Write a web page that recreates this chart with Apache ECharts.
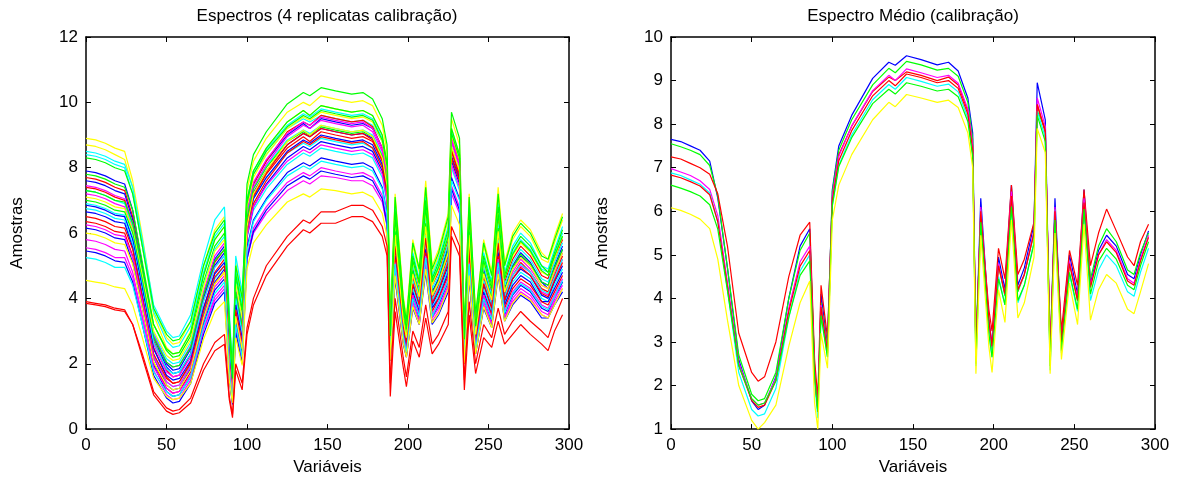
<!DOCTYPE html>
<html>
<head>
<meta charset="utf-8">
<title>Espectros calibração</title>
<script src="https://cdn.jsdelivr.net/npm/echarts@6/dist/echarts.min.js"></script>
<style>
  html, body { margin: 0; padding: 0; background: #fff; }
  #chart { width: 1178px; height: 481px; }
</style>
</head>
<body>
<div id="chart"></div>
<script>
// variaveis (eixo x) onde os espectros foram lidos
var variaveis = [0, 6, 12, 18, 24, 29, 35, 42, 50, 54, 58,
  65, 73, 80, 86, 89, 91, 93, 97,
  100, 104, 112, 125, 135, 139, 146, 155, 165, 172, 178, 184, 187,
  189, 192, 197, 199, 203, 207, 211, 215, 219, 225, 227, 232, 235, 238, 242, 247, 252, 256, 260, 265, 270, 276, 283, 287, 291, 296];

// espectros das 4 replicatas (painel esquerdo)
var replicatas = [
  [8.9,8.85,8.75,8.6,8.5,7.6,5.9,3.7,2.8,2.6,2.65, 3.3,5.0,6.1,6.5,3.4,1.7,5.1,4.0, 7.3,8.2,8.9,9.7,10.0,9.9,10.2,10.1,10.0,10.05,9.9,9.3,8.5, 3.2,7.2,4.1,3.4,5.8,4.9,7.6,5.0,5.5,6.6,9.5,8.7,3.1,7.2,3.5,5.8,4.8,7.4,5.1,6.0,6.4,6.1,5.4,5.2,5.9,6.6],
  [8.7,8.65,8.55,8.4,8.25,7.4,5.6,3.5,2.5,2.3,2.35, 3.0,4.7,5.8,6.2,3.1,1.6,4.8,3.7, 7.0,7.9,8.6,9.4,9.75,9.6,9.9,9.8,9.7,9.75,9.6,9.0,8.15, 3.1,7.0,4.0,3.3,5.6,4.8,7.3,4.8,5.3,6.4,9.2,8.4,3.0,7.0,3.4,5.6,4.7,7.1,5.0,5.8,6.2,5.9,5.2,5.1,5.7,6.4],
  [8.5,8.45,8.35,8.2,8.1,7.4,5.8,3.8,3.0,2.8,2.85, 3.5,5.2,6.4,6.8,3.6,1.8,5.3,4.2, 7.0,7.8,8.4,9.2,9.5,9.4,9.6,9.5,9.4,9.45,9.3,8.8,8.0, 3.0,6.8,3.8,3.2,5.4,4.6,7.1,4.7,5.2,6.2,8.9,8.2,2.9,6.8,3.3,5.4,4.5,6.9,4.8,5.6,6.0,5.7,5.0,4.9,5.5,6.2],
  [8.4,8.35,8.25,8.1,8.0,7.2,5.6,3.6,2.7,2.5,2.55, 3.15,4.8,5.9,6.3,3.3,1.7,4.9,3.8, 7.0,7.9,8.55,9.3,9.65,9.55,9.8,9.7,9.6,9.65,9.5,8.9,8.1, 2.9,6.6,3.7,3.1,5.2,4.5,6.8,4.5,5.0,6.0,9.1,8.3,2.8,6.6,3.2,5.2,4.4,6.7,4.6,5.4,5.8,5.5,4.9,4.8,5.3,6.0],
  [8.3,8.25,8.15,8.0,7.9,7.2,5.6,3.7,2.9,2.7,2.75, 3.3,5.0,6.0,6.4,3.4,1.8,5.0,4.0, 7.5,8.4,9.1,9.95,10.3,10.2,10.45,10.35,10.25,10.3,10.1,9.5,8.7, 3.2,7.1,4.0,3.3,5.7,4.9,7.4,4.9,5.4,6.5,9.7,8.9,3.0,7.1,3.5,5.7,4.7,7.2,5.0,5.9,6.3,6.0,5.3,5.2,5.8,6.5],
  [7.9,7.85,7.75,7.6,7.5,6.7,5.0,2.9,2.0,1.8,1.85, 2.45,4.1,5.2,5.6,2.55,1.3,4.2,3.1, 6.6,7.5,8.2,9.0,9.35,9.2,9.5,9.4,9.3,9.35,9.2,8.6,7.7, 2.7,6.1,3.5,2.9,4.9,4.2,6.4,4.2,4.6,5.6,8.8,8.1,2.6,6.1,3.0,4.9,4.1,6.2,4.3,5.0,5.4,5.1,4.5,4.4,5.0,5.6],
  [7.8,7.75,7.65,7.5,7.4,6.7,5.1,3.2,2.4,2.2,2.25, 2.85,4.5,5.6,6.0,2.95,1.5,4.6,3.5, 7.0,7.9,8.6,9.4,9.75,9.6,9.9,9.8,9.7,9.75,9.6,9.0,8.1, 3.0,6.7,3.8,3.1,5.3,4.5,7.0,4.6,5.1,6.1,9.2,8.4,2.8,6.7,3.2,5.3,4.4,6.8,4.7,5.5,5.9,5.6,5.0,4.8,5.4,6.1],
  [7.7,7.65,7.55,7.4,7.3,6.5,4.8,2.7,1.8,1.6,1.65, 2.3,4.0,5.1,5.5,2.4,1.2,4.1,3.0, 6.6,7.5,8.2,9.1,9.4,9.3,9.6,9.5,9.4,9.45,9.25,8.6,7.8, 2.8,6.3,3.6,3.0,5.0,4.3,6.6,4.4,4.8,5.8,8.9,8.2,2.7,6.3,3.1,5.0,4.2,6.4,4.5,5.2,5.6,5.3,4.7,4.6,5.2,5.8],
  [7.6,7.55,7.45,7.3,7.2,6.4,4.8,2.8,1.9,1.7,1.75, 2.3,4.0,5.0,5.4,2.45,1.25,4.0,3.0, 6.35,7.25,7.9,8.7,9.05,8.95,9.2,9.1,9.0,9.05,8.9,8.3,7.5, 2.7,6.0,3.4,2.8,4.8,4.1,6.3,4.1,4.6,5.5,8.6,7.8,2.5,6.0,2.9,4.8,4.0,6.1,4.2,4.9,5.3,5.0,4.5,4.3,4.9,5.5],
  [7.45,7.4,7.3,7.15,7.05,6.3,4.8,2.9,2.05,1.9,1.95, 2.55,4.2,5.3,5.7,2.65,1.35,4.3,3.2, 6.65,7.55,8.25,9.05,9.4,9.3,9.55,9.45,9.35,9.4,9.2,8.6,7.8, 2.6,5.9,3.3,2.8,4.7,4.0,6.1,4.1,4.5,5.4,8.9,8.1,2.5,5.9,2.9,4.7,3.9,6.0,4.2,4.8,5.2,4.9,4.4,4.3,4.8,5.4],
  [7.4,7.35,7.25,7.1,7.0,6.2,4.5,2.5,1.6,1.4,1.45, 2.05,3.7,4.8,5.2,2.15,1.05,3.8,2.7, 6.2,7.1,7.8,8.6,8.95,8.8,9.1,9.0,8.9,8.95,8.8,8.2,7.3, 2.6,5.8,3.3,2.7,4.6,3.9,6.0,4.0,4.4,5.3,8.5,7.7,2.4,5.8,2.8,4.6,3.8,5.9,4.1,4.7,5.1,4.8,4.3,4.2,4.7,5.3],
  [7.3,7.25,7.15,7.0,6.9,6.2,4.75,2.95,2.15,2.0,2.05, 2.65,4.4,5.5,5.9,2.8,1.4,4.5,3.35, 6.5,7.4,8.05,8.85,9.15,9.05,9.3,9.2,9.1,9.15,9.0,8.4,7.6, 2.8,6.2,3.5,2.9,5.0,4.2,6.5,4.3,4.7,5.7,8.65,7.9,2.6,6.2,3.0,5.0,4.1,6.3,4.4,5.1,5.5,5.2,4.6,4.5,5.1,5.7],
  [7.2,7.15,7.05,6.9,6.8,6.1,4.5,2.6,1.75,1.6,1.65, 2.2,3.9,4.95,5.3,2.35,1.2,3.95,2.9, 6.45,7.4,8.1,8.95,9.3,9.2,9.45,9.35,9.25,9.3,9.1,8.5,7.65, 2.5,5.7,3.2,2.7,4.5,3.9,5.9,3.9,4.3,5.2,8.8,8.0,2.4,5.7,2.8,4.5,3.8,5.8,4.0,4.7,5.0,4.8,4.2,4.1,4.6,5.2],
  [7.1,7.05,6.95,6.8,6.75,6.1,4.7,3.0,2.25,2.1,2.15, 2.75,4.35,5.45,5.8,2.85,1.45,4.45,3.4, 6.8,7.7,8.4,9.2,9.55,9.45,9.7,9.6,9.5,9.55,9.4,8.8,7.95, 2.9,6.4,3.6,3.0,5.1,4.4,6.7,4.4,4.9,5.9,9.0,8.25,2.7,6.4,3.1,5.1,4.3,6.6,4.6,5.3,5.7,5.4,4.8,4.7,5.2,5.9],
  [7.0,6.95,6.85,6.7,6.65,6.0,4.55,2.8,2.05,1.9,1.95, 2.5,4.1,5.15,5.5,2.6,1.35,4.2,3.15, 6.45,7.35,8.0,8.8,9.1,9.0,9.25,9.15,9.05,9.1,8.95,8.35,7.55, 2.7,6.05,3.45,2.85,4.85,4.1,6.3,4.15,4.55,5.5,8.6,7.85,2.55,6.05,2.95,4.8,4.0,6.15,4.25,4.95,5.35,5.05,4.5,4.4,4.95,5.5],
  [6.9,6.85,6.75,6.6,6.55,5.85,4.4,2.65,1.85,1.7,1.75, 2.3,3.9,4.95,5.3,2.4,1.25,4.0,2.95, 6.15,7.05,7.7,8.45,8.75,8.65,8.9,8.8,8.7,8.75,8.6,8.05,7.25, 2.55,5.7,3.25,2.7,4.55,3.9,5.95,3.95,4.35,5.2,8.3,7.55,2.4,5.7,2.8,4.55,3.8,5.8,4.05,4.7,5.05,4.8,4.25,4.15,4.65,5.2],
  [6.85,6.8,6.7,6.55,6.5,5.8,4.3,2.45,1.65,1.5,1.55, 2.1,3.7,4.75,5.1,2.2,1.1,3.8,2.75, 6.15,7.05,7.7,8.5,8.85,8.75,9.0,8.9,8.8,8.85,8.7,8.1,7.3, 2.5,5.5,3.1,2.6,4.4,3.8,5.8,3.8,4.2,5.0,8.35,7.65,2.4,5.5,2.7,4.4,3.7,5.6,3.9,4.6,4.9,4.7,4.1,4.0,4.5,5.0],
  [6.75,6.7,6.6,6.45,6.4,5.65,4.15,2.3,1.45,1.3,1.35, 1.95,3.55,4.6,5.0,2.05,1.0,3.65,2.6, 5.85,6.7,7.35,8.1,8.45,8.35,8.6,8.5,8.4,8.45,8.3,7.7,6.9, 2.4,5.4,3.1,2.5,4.3,3.7,5.7,3.7,4.1,4.9,8.0,7.3,2.3,5.4,2.6,4.3,3.6,5.5,3.8,4.5,4.8,4.6,4.0,3.9,4.4,4.9],
  [6.65,6.6,6.5,6.35,6.3,5.55,4.05,2.2,1.35,1.2,1.25, 1.85,3.45,4.5,4.9,1.95,0.95,3.55,2.5, 5.9,6.8,7.5,8.3,8.65,8.55,8.8,8.7,8.6,8.65,8.5,7.9,7.05, 2.4,5.3,3.0,2.5,4.2,3.6,5.5,3.7,4.0,4.8,8.2,7.5,2.3,5.3,2.6,4.2,3.5,5.4,3.8,4.4,4.7,4.5,3.9,3.9,4.3,4.8],
  [6.5,6.45,6.35,6.2,6.15,5.5,4.05,2.3,1.55,1.4,1.45, 2.0,3.6,4.65,5.0,2.1,1.05,3.65,2.65, 6.25,7.15,7.85,8.7,9.05,8.95,9.2,9.1,9.0,9.05,8.85,8.25,7.4, 2.45,5.6,3.15,2.65,4.45,3.8,5.85,3.85,4.25,5.1,8.55,7.8,2.35,5.6,2.75,4.45,3.7,5.7,3.95,4.6,4.95,4.7,4.15,4.05,4.55,5.1],
  [6.35,6.3,6.2,6.05,6.0,5.3,3.85,2.05,1.25,1.1,1.15, 1.75,3.35,4.45,4.8,1.85,0.9,3.45,2.4, 5.95,6.9,7.6,8.45,8.8,8.7,8.95,8.85,8.75,8.8,8.6,8.0,7.15, 2.3,5.2,2.9,2.4,4.1,3.5,5.4,3.6,4.0,4.7,8.3,7.6,2.2,5.2,2.5,4.1,3.5,5.3,3.7,4.3,4.6,4.4,3.9,3.8,4.2,4.7],
  [6.25,6.2,6.1,5.95,5.9,5.25,3.9,2.2,1.45,1.3,1.35, 1.9,3.35,4.35,4.7,2.0,1.0,3.45,2.5, 5.9,6.8,7.45,8.2,8.55,8.45,8.7,8.6,8.5,8.55,8.4,7.8,7.0, 2.3,5.1,2.9,2.4,4.1,3.5,5.3,3.5,3.9,4.6,8.1,7.4,2.2,5.1,2.5,4.1,3.4,5.2,3.6,4.2,4.5,4.3,3.8,3.7,4.1,4.6],
  [6.15,6.1,6.0,5.85,5.8,5.1,3.7,1.95,1.15,1.0,1.05, 1.6,3.2,4.25,4.6,1.7,0.85,3.25,2.25, 5.55,6.4,7.05,7.85,8.15,8.05,8.3,8.2,8.1,8.15,8.0,7.4,6.6, 2.2,5.0,2.8,2.3,4.0,3.4,5.2,3.4,3.8,4.5,7.7,7.05,2.1,5.0,2.4,4.0,3.3,5.1,3.5,4.1,4.4,4.2,3.7,3.6,4.0,4.5],
  [6.0,5.95,5.85,5.7,5.65,5.05,3.7,2.05,1.35,1.2,1.25, 1.8,3.4,4.45,4.8,1.9,0.95,3.45,2.45, 6.2,7.2,7.9,8.8,9.15,9.0,9.3,9.2,9.1,9.15,8.95,8.3,7.45, 2.65,5.95,3.35,2.8,4.75,4.05,6.2,4.1,4.5,5.4,8.65,7.9,2.5,5.95,2.9,4.75,3.95,6.05,4.2,4.9,5.25,5.0,4.4,4.3,4.85,5.4],
  [5.8,5.75,5.65,5.5,5.45,4.8,3.45,1.8,1.05,0.9,0.95, 1.5,3.05,4.05,4.4,1.6,0.8,3.1,2.1, 5.3,6.15,6.8,7.55,7.85,7.75,8.0,7.9,7.8,7.85,7.7,7.15,6.35, 2.2,4.9,2.8,2.3,3.9,3.3,5.1,3.4,3.7,4.4,7.45,6.8,2.1,4.9,2.4,3.9,3.2,4.9,3.4,4.0,4.3,4.1,3.6,3.5,4.0,4.4],
  [5.55,5.5,5.4,5.25,5.25,4.65,3.4,1.9,1.25,1.1,1.15, 1.65,3.05,3.95,4.3,1.75,0.9,3.1,2.2, 5.2,6.0,6.6,7.3,7.6,7.5,7.75,7.7,7.6,7.6,7.45,6.95,6.2, 2.1,4.7,2.7,2.2,3.8,3.2,5.0,3.3,3.6,4.3,7.2,6.6,2.0,4.7,2.3,3.8,3.2,4.8,3.4,3.9,4.2,4.0,3.5,3.4,3.9,4.3],
  [5.45,5.4,5.3,5.15,5.1,4.5,3.2,1.65,0.95,0.8,0.85, 1.4,2.9,3.85,4.2,1.5,0.75,2.95,2.0, 5.2,6.05,6.7,7.45,7.75,7.65,7.9,7.8,7.7,7.75,7.6,7.05,6.25, 2.1,4.6,2.6,2.2,3.7,3.2,4.8,3.2,3.5,4.2,7.35,6.7,2.0,4.6,2.3,3.7,3.1,4.7,3.3,3.8,4.1,3.9,3.4,3.4,3.8,4.2],
  [5.25,5.2,5.1,4.95,4.95,4.4,3.2,1.75,1.15,1.0,1.05, 1.6,3.15,4.15,4.5,1.7,0.85,3.2,2.2, 5.45,6.35,7.0,7.75,8.05,7.95,8.2,8.1,8.0,8.05,7.9,7.35,6.55, 2.25,5.05,2.85,2.35,4.0,3.45,5.25,3.45,3.85,4.55,7.6,7.0,2.15,5.05,2.45,4.0,3.35,5.1,3.55,4.15,4.45,4.25,3.75,3.65,4.05,4.55],
  [4.55,4.5,4.45,4.35,4.3,3.8,2.8,1.55,1.0,0.9,0.95, 1.4,2.75,3.6,3.9,1.5,0.8,2.8,1.95, 4.9,5.7,6.25,6.95,7.2,7.1,7.35,7.3,7.2,7.25,7.1,6.6,5.9, 2.1,4.7,2.65,2.2,3.75,3.2,4.9,3.25,3.55,4.3,6.85,6.25,2.0,4.7,2.3,3.75,3.1,4.75,3.3,3.85,4.15,3.95,3.5,3.4,3.8,4.3],
  [3.9,3.85,3.8,3.7,3.65,3.2,2.3,1.15,0.65,0.55,0.6, 0.95,2.0,2.65,2.9,1.0,0.45,2.0,1.4, 3.1,4.0,5.0,5.9,6.4,6.3,6.65,6.65,6.85,6.85,6.7,6.2,5.6, 1.4,4.0,2.2,1.6,3.0,2.5,3.8,2.6,2.9,3.6,6.2,5.6,1.5,3.9,2.0,3.2,2.8,3.7,2.9,3.3,3.6,3.3,3.0,2.8,3.4,4.0],
  [3.85,3.8,3.75,3.65,3.6,3.2,2.2,1.05,0.55,0.45,0.5, 0.8,1.8,2.4,2.6,0.9,0.35,1.8,1.2, 2.9,3.8,4.7,5.6,6.1,6.0,6.3,6.3,6.5,6.5,6.35,5.9,5.3, 1.0,3.6,1.9,1.3,2.7,2.2,3.4,2.3,2.6,3.2,5.9,5.3,1.2,3.5,1.7,2.8,2.5,3.3,2.6,2.9,3.2,2.9,2.6,2.4,3.0,3.5],
  [7.3,7.25,7.15,7.0,6.95,6.3,4.9,3.2,2.45,2.3,2.35, 2.95,4.7,5.8,6.2,3.1,1.55,4.75,3.65, 6.9,7.8,8.5,9.25,9.6,9.5,9.75,9.65,9.55,9.6,9.45,8.85,8.05, 2.85,6.5,3.7,3.05,5.15,4.45,6.8,4.5,4.95,5.9,9.05,8.3,2.75,6.5,3.15,5.15,4.3,6.6,4.6,5.35,5.75,5.45,4.85,4.7,5.3,5.9]
];
var coresReplicatas = ['#ffff00','#ffff00','#00ffff','#00ffff','#00ff00','#0000ff','#00ff00','#ff0000',
  '#0000ff','#ff00ff','#ff0000','#00ffff','#ff00ff','#ffff00','#00ff00','#00ffff',
  '#0000ff','#00ffff','#0000ff','#ff0000','#ff0000','#ff00ff','#0000ff','#ffff00',
  '#ff00ff','#ff00ff','#0000ff','#00ffff','#ffff00','#ff0000','#ff0000','#00ff00'];

// espectros medios (painel direito)
var mediaAzul = [7.65,7.6,7.5,7.4,7.15,6.3,4.7,2.6,1.65,1.45,1.55, 2.2,4.0,5.2,5.6,2.4,1.45,4.1,2.9, 6.5,7.5,8.2,9.05,9.42,9.35,9.57,9.48,9.36,9.42,9.22,8.6,7.8, 2.8,6.3,3.5,2.95,4.95,4.2,6.6,4.3,4.7,5.7,8.95,8.1,2.7,6.3,3.05,5.0,4.1,6.5,4.35,5.1,5.45,5.2,4.55,4.45,5.0,5.55];
var mediaVerde = [7.55,7.48,7.4,7.3,7.05,6.35,4.7,2.7,1.8,1.65,1.7, 2.3,4.0,5.1,5.5,2.4,1.5,3.9,2.85, 6.45,7.4,8.1,8.9,9.28,9.18,9.44,9.36,9.24,9.28,9.1,8.5,7.65, 2.65,6.05,3.4,2.8,4.75,4.05,6.35,4.15,4.55,5.5,8.3,7.9,2.55,6.05,2.9,4.8,3.95,6.25,4.45,5.2,5.6,5.3,4.65,4.55,5.05,5.5];
var mediaVermelha = [7.25,7.2,7.1,7.0,6.85,6.4,5.2,3.2,2.3,2.1,2.2, 3.0,4.5,5.45,5.75,2.6,1.7,4.3,3.1, 6.3,7.3,7.95,8.75,9.08,9.0,9.2,9.12,9.0,9.08,8.9,8.3,7.5, 2.85,5.9,3.75,3.25,5.15,4.45,6.6,4.55,4.9,5.75,8.45,7.8,2.8,6.0,3.25,5.1,4.3,6.5,4.75,5.5,6.05,5.55,4.95,4.75,5.3,5.7];
var mediaMagenta = [6.98,6.9,6.82,6.7,6.5,5.9,4.37,2.53,1.7,1.55,1.6, 2.17,3.78,4.84,5.2,2.3,1.45,3.85,2.8, 6.34,7.26,7.96,8.77,9.12,9.0,9.27,9.18,9.07,9.12,8.94,8.35,7.5, 2.7,6.1,3.45,2.85,4.8,4.1,6.45,4.2,4.55,5.55,8.6,7.95,2.6,6.1,2.95,4.85,4.0,6.3,4.3,5.0,5.35,5.1,4.45,4.35,4.9,5.45];
var mediaCiano = [6.88,6.82,6.72,6.62,6.42,5.76,4.2,2.3,1.45,1.3,1.35, 1.93,3.56,4.63,5.0,2.1,1.25,3.65,2.65, 6.12,7.05,7.75,8.56,8.91,8.8,9.07,8.98,8.87,8.92,8.74,8.14,7.3, 2.45,5.85,3.2,2.65,4.5,3.85,6.15,3.9,4.3,5.3,8.3,7.7,2.35,5.85,2.75,4.55,3.7,6.0,3.95,4.65,5.0,4.75,4.15,4.05,4.6,5.15];
var mediaVermelha2 = [6.83,6.77,6.68,6.58,6.38,5.76,4.27,2.46,1.66,1.5,1.55, 2.11,3.7,4.74,5.1,2.25,1.4,3.8,2.75, 6.24,7.16,7.85,8.65,9.0,8.88,9.15,9.07,8.95,9.0,8.82,8.23,7.4, 2.75,6.0,3.5,2.9,4.75,4.1,6.35,4.2,4.55,5.5,8.45,7.85,2.65,6.0,3.0,4.8,3.95,6.2,4.25,5.0,5.3,5.05,4.4,4.3,4.85,5.4];
var mediaVerde2 = [6.6,6.53,6.45,6.35,6.15,5.59,4.18,2.46,1.7,1.55,1.6, 2.11,3.57,4.53,4.86,2.2,1.4,3.6,2.65, 6.14,7.03,7.69,8.47,8.8,8.69,8.95,8.87,8.76,8.8,8.63,8.06,7.25, 2.5,5.75,3.2,2.65,4.45,3.85,6.1,3.95,4.3,5.25,8.2,7.6,2.45,5.8,2.8,4.6,3.75,6.05,4.1,4.85,5.15,4.9,4.3,4.2,4.75,5.3];
var mediaAmarela = [6.08,6.02,5.93,5.82,5.6,4.9,3.5,2.0,1.2,1.0,1.15, 1.55,2.9,3.9,4.4,1.6,1.0,3.2,2.4, 5.8,6.6,7.3,8.1,8.5,8.4,8.68,8.6,8.5,8.55,8.38,7.8,7.0, 2.27,5.45,2.9,2.3,4.2,3.45,5.8,3.55,3.9,4.95,7.9,7.35,2.27,5.5,2.6,4.35,3.4,5.7,3.5,4.2,4.55,4.35,3.75,3.65,4.15,4.8];
var medias = [mediaAzul, mediaVerde, mediaVermelha, mediaMagenta, mediaCiano, mediaVermelha2, mediaVerde2, mediaAmarela];
var coresMedias = ['#0000ff','#00ff00','#ff0000','#ff00ff','#00ffff','#ff0000','#00ff00','#ffff00'];

var fonte = '"Liberation Sans", Arial, sans-serif';
var preto = '#000';

function serie(ys, cor, painel) {
    return {
        type: 'line',
        xAxisIndex: painel * 2,
        yAxisIndex: painel * 2,
        data: variaveis.map(function (x, i) { return [x, ys[i]]; }),
        symbol: 'none',
        silent: true,
        lineStyle: { color: cor, width: 1.2 },
        itemStyle: { color: cor }
    };
}

function eixoX(painel, topo) {
    return {
        type: 'value', gridIndex: painel, position: topo ? 'top' : 'bottom',
        min: 0, max: 300, interval: 50,
        axisLine: { show: true, onZero: false, lineStyle: { color: preto, width: 1.5 } },
        axisTick: { show: true, inside: true, length: 5, lineStyle: { color: preto } },
        axisLabel: { show: !topo, color: preto, fontSize: 17, fontFamily: fonte, margin: 8 },
        splitLine: { show: false },
        name: topo ? '' : 'Variáveis', nameLocation: 'middle', nameGap: 25,
        nameTextStyle: { color: preto, fontSize: 17, fontFamily: fonte }
    };
}

function eixoY(painel, direita, min, max, passo) {
    return {
        type: 'value', gridIndex: painel, position: direita ? 'right' : 'left',
        min: min, max: max, interval: passo,
        axisLine: { show: true, onZero: false, lineStyle: { color: preto, width: 1.5 } },
        axisTick: { show: true, inside: true, length: 5, lineStyle: { color: preto } },
        axisLabel: { show: !direita, color: preto, fontSize: 17, fontFamily: fonte, margin: 8 },
        splitLine: { show: false },
        name: direita ? '' : 'Amostras', nameLocation: 'middle', nameGap: 60,
        nameTextStyle: { color: preto, fontSize: 17, fontFamily: fonte }
    };
}

var series = [];
replicatas.forEach(function (ys, k) { series.push(serie(ys, coresReplicatas[k], 0)); });
medias.forEach(function (ys, k) { series.push(serie(ys, coresMedias[k], 1)); });

var option = {
    animation: false,
    backgroundColor: '#fff',
    graphic: [
        { type: 'text', x: 327, y: 16, style: { text: 'Espectros (4 replicatas calibração)', fill: preto, font: '17px ' + fonte, textAlign: 'center', textVerticalAlign: 'middle' } },
        { type: 'text', x: 913, y: 16, style: { text: 'Espectro Médio (calibração)', fill: preto, font: '17px ' + fonte, textAlign: 'center', textVerticalAlign: 'middle' } }
    ],
    grid: [
        { left: 86, top: 37, width: 483, height: 396 },
        { left: 671, top: 37, width: 484, height: 396 }
    ],
    xAxis: [eixoX(0, false), eixoX(0, true), eixoX(1, false), eixoX(1, true)],
    yAxis: [eixoY(0, false, 0, 12, 2), eixoY(0, true, 0, 12, 2), eixoY(1, false, 1, 10, 1), eixoY(1, true, 1, 10, 1)],
    series: series
};

var myChart = echarts.init(document.getElementById('chart'));
myChart.setOption(option);
</script>
</body>
</html>
